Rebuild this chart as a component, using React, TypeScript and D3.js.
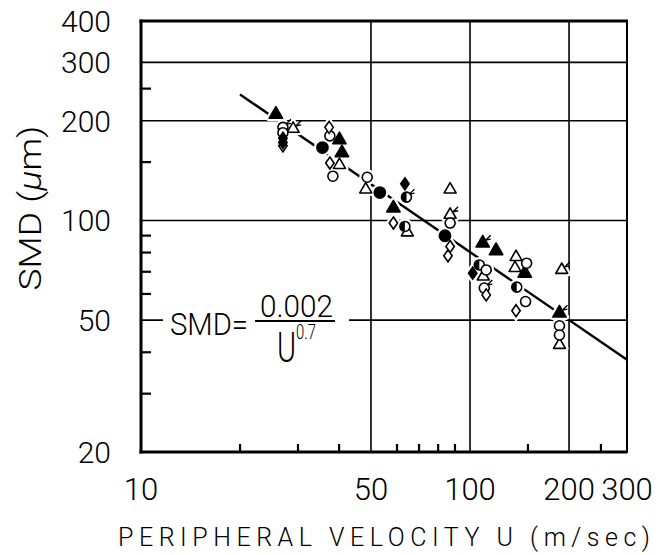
import React from 'react';
import * as d3 from 'd3';

const W = 663;
const H = 555;

const xTickLabels = [10, 50, 100, 200, 300];
const xGrid = [50, 100, 200];
const xMinor = [20, 30, 40, 60, 70, 80, 90, 150, 250];
const yTickLabels = [20, 50, 100, 200, 300, 400];
const yGrid = [50, 100, 200, 300];
const yMinor = [30, 40, 60, 70, 80, 90, 150, 250];

// [U (m/sec), SMD (um), flagged]
const filledTriangles = [
  [25.7, 209, 0], [40.1, 175, 0], [40.8, 160, 0], [58.5, 109, 0],
  [120, 81, 0], [146.7, 69.3, 0], [109.3, 85.4, 1], [187, 52.5, 1],
];
const openTriangles = [
  [29.0, 189, 1], [40.1, 147, 0], [48.2, 124, 0], [64.5, 92, 0],
  [87, 124, 0], [87, 104, 1], [109.7, 67.7, 0], [138, 77.5, 0],
  [137, 71.8, 0], [190, 70.9, 1], [187, 42.1, 0],
];
const filledCircles = [
  [35.6, 166, 0], [53.2, 121.4, 0], [83.9, 89.9, 0],
];
const halfCircles = [
  [64.1, 117.6, 1], [63.4, 95.9, 0], [106.7, 73.4, 0], [138.7, 62.9, 0],
];
const openCircles = [
  [27.0, 191, 1], [27.0, 184, 0], [37.5, 180, 0], [38.3, 136, 0],
  [48.7, 135, 0], [87, 98.2, 0], [112, 70.9, 0], [110.5, 62.5, 1],
  [148.6, 74.3, 0], [147.5, 56.9, 0], [187, 48.1, 0], [187, 45.1, 0],
];
const openDiamonds = [
  [27.0, 168, 0], [37.3, 191, 0], [37.5, 149, 0], [58.5, 98.2, 0],
  [87, 83.4, 0], [85.7, 78.2, 0], [112, 59.6, 0], [138, 53.4, 0],
];
const filledDiamonds = [
  [27.0, 177, 0], [27.0, 172, 0], [63.4, 129, 0], [101.9, 69.3, 0],
];

// fitted line: SMD = 0.002 / U^0.7
const fitLine = [[20, 240], [300, 38]];

const series = [
  { kind: 'triangle', fill: true, data: filledTriangles },
  { kind: 'triangle', fill: false, data: openTriangles },
  { kind: 'circle', fill: true, data: filledCircles },
  { kind: 'half', fill: false, data: halfCircles },
  { kind: 'circle', fill: false, data: openCircles },
  { kind: 'diamond', fill: false, data: openDiamonds },
  { kind: 'diamond', fill: true, data: filledDiamonds },
];

const x = d3.scaleLog().domain([10, 300]).range([141, 627]);
const y = d3.scaleLog().domain([20, 400]).range([452, 21]);

const triFilled = d3.symbol().type(d3.symbolTriangle).size(78)();
const triOpen = d3.symbol().type(d3.symbolTriangle).size(62)();
const diamond = 'M0,-6L4.2,0L0,6L-4.2,0Z';
const R = 5;

const font = 'Roboto, "Liberation Sans", Arial, sans-serif';

function shape(kind: string, fill: boolean, halo: boolean) {
  const stroke = halo ? '#fff' : '#000';
  const sw = halo ? 6 : 1.6;
  const f = halo ? '#fff' : fill ? '#000' : '#fff';
  if (kind === 'triangle')
    return <path d={fill ? triFilled : triOpen} fill={f} stroke={stroke} strokeWidth={sw} strokeLinejoin="round" />;
  if (kind === 'diamond')
    return <path d={diamond} fill={f} stroke={stroke} strokeWidth={sw} />;
  if (kind === 'half')
    return (
      <g>
        <circle r={R} fill="#fff" stroke={stroke} strokeWidth={sw} />
        {!halo && <path d={`M0,${-R}A${R},${R} 0 0 0 0,${R}Z`} fill="#000" />}
      </g>
    );
  return <circle r={fill ? R + 0.6 : R} fill={f} stroke={stroke} strokeWidth={sw} />;
}

export default function App() {
  const line = d3.line<number[]>().x(d => x(d[0])).y(d => y(d[1]));

  return (
    <svg width={W} height={H} style={{ position: 'absolute', left: 0, top: 0, background: '#fff' }}
      fontFamily={font} fontWeight={300}>
      <rect width={W} height={H} fill="#fff" />

      {/* grid */}
      {xGrid.map(v => (
        <line key={'xg' + v} x1={x(v)} x2={x(v)} y1={21} y2={452} stroke="#000" strokeWidth={1.6} />
      ))}
      {yGrid.map(v => (
        <line key={'yg' + v} x1={141} x2={627} y1={y(v)} y2={y(v)} stroke="#000" strokeWidth={1.6} />
      ))}

      {/* fitted line */}
      <path d={line(fitLine) || ''} fill="none" stroke="#000" strokeWidth={2.4} />

      {/* halos, then markers */}
      {series.map((s, i) =>
        s.data.map((d, j) => (
          <g key={`h${i}-${j}`} transform={`translate(${x(d[0])},${y(d[1])})`}>
            {shape(s.kind, s.fill, true)}
          </g>
        ))
      )}
      {series.map((s, i) =>
        s.data.map((d, j) => (
          <g key={`m${i}-${j}`} transform={`translate(${x(d[0])},${y(d[1])})`}>
            {shape(s.kind, s.fill, false)}
            {d[2] ? <path d="M3,-3L8,-8M3,-3L8,-4" stroke="#000" strokeWidth={1.4} fill="none" /> : null}
          </g>
        ))
      )}

      {/* frame */}
      <line x1={141} x2={141} y1={19.5} y2={453.5} stroke="#000" strokeWidth={3} />
      <line x1={139.5} x2={627} y1={452} y2={452} stroke="#000" strokeWidth={3} />
      <line x1={627} x2={627} y1={21} y2={453} stroke="#000" strokeWidth={2} />
      <line x1={139.5} x2={628} y1={21} y2={21} stroke="#000" strokeWidth={3} />

      {/* minor ticks */}
      {xMinor.map(v => (
        <line key={'xm' + v} x1={x(v)} x2={x(v)} y1={452} y2={444} stroke="#000" strokeWidth={2.2} />
      ))}
      {yMinor.map(v => (
        <line key={'ym' + v} x1={141} x2={151} y1={y(v)} y2={y(v)} stroke="#000" strokeWidth={2.2} />
      ))}

      {/* tick labels */}
      {yTickLabels.map(v => (
        <text key={'yl' + v} x={111} y={y(v)} dy="0.36em" textAnchor="end" fontSize={30}>{v}</text>
      ))}
      {xTickLabels.map(v => (
        <text key={'xl' + v} x={x(v)} y={500} textAnchor="middle" fontSize={31}>{v}</text>
      ))}

      {/* axis titles */}
      <text x={118} y={546} fontSize={25} textLength={532} lengthAdjust="spacing">
        PERIPHERAL VELOCITY U (m/sec)
      </text>
      <text transform="translate(41,208) rotate(-90)" textAnchor="middle" fontSize={32}
        textLength={165} lengthAdjust="spacingAndGlyphs">
        SMD (<tspan fontStyle="italic">μ</tspan>m)
      </text>

      {/* equation */}
      <rect x={163} y={288} width={186} height={78} fill="#fff" />
      <text x={170} y={335} fontSize={32} textLength={78} lengthAdjust="spacingAndGlyphs">SMD=</text>
      <text x={260} y={317} fontSize={32} textLength={73} lengthAdjust="spacingAndGlyphs">0.002</text>
      <line x1={255} x2={335} y1={321} y2={321} stroke="#000" strokeWidth={2} />
      <text x={277} y={362} fontSize={42} textLength={19} lengthAdjust="spacingAndGlyphs">U</text>
      <text x={296} y={339} fontSize={21} textLength={20} lengthAdjust="spacingAndGlyphs">0.7</text>
    </svg>
  );
}
